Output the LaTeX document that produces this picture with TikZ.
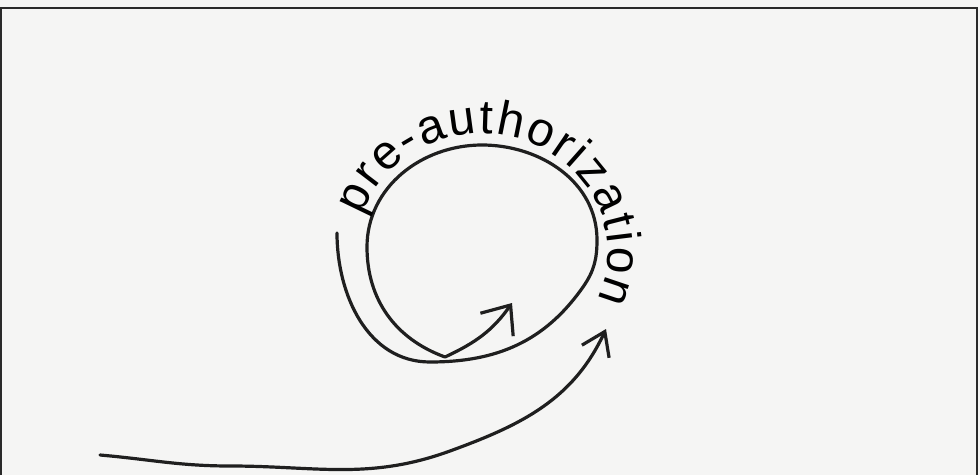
\documentclass[tikz,border=0pt]{standalone}
\usepackage{fontspec}
\setmainfont{Liberation Sans}
\usepackage{tikz}
\usetikzlibrary{arrows.meta,decorations.text}
\usepackage{xcolor}
\definecolor{sketchink}{HTML}{1F1F1F}
\definecolor{sketchpaper}{HTML}{F5F5F4}
\definecolor{sketchframe}{HTML}{2A2A2A}
\tikzset{
  inkline/.style={
    draw=sketchink,
    line width=3.2pt,
    line cap=round,
    line join=round
  },
  loopline/.style={
    inkline,
    -{Straight Barb[length=24pt,width=40pt,line width=3.2pt]}
  },
  tailline/.style={
    inkline,
    -{Straight Barb[length=22pt,width=30pt,line width=3.2pt]}
  },
  framelines/.style={
    draw=sketchframe,
    line width=1.4pt
  }
}

\begin{document}
\begin{tikzpicture}[x=1pt,y=1pt]
\useasboundingbox (0,0) rectangle (980,475);
\fill[sketchpaper] (0,0) rectangle (980,475);
\draw[framelines] (1,0) -- (1,467) -- (977,467) -- (977,0);

% loop round the step
\coordinate (loopstart) at (337,242);
\coordinate (looptip) at (512,172);
\draw[loopline] (loopstart) to[out=-90,in=180] (430,113)
  to[out=0,in=-125] (583,188) to[out=55,in=-90] (597,235)
  to[out=90,in=0] (482,330) to[out=180,in=90] (367,228)
  to[out=-90,in=160] (445,118) to[out=25,in=-125] (looptip);

% label along the loop
\path[decorate,decoration={text along path,
    text={|\fontsize{48}{48}\selectfont|pre-authorization},
    text align={fit to path}}]
  (482,223) ++(162:126 and 118)
  arc[start angle=162,end angle=-24,x radius=126,y radius=118];

% long arrow into the loop
\coordinate (tailstart) at (100,20);
\coordinate (tailtip) at (606,146);
\draw[tailline] (tailstart) to[out=-5,in=180] (230,9)
  to[out=0,in=200] (450,24) to[out=20,in=-115] (tailtip);
\end{tikzpicture}
\end{document}
